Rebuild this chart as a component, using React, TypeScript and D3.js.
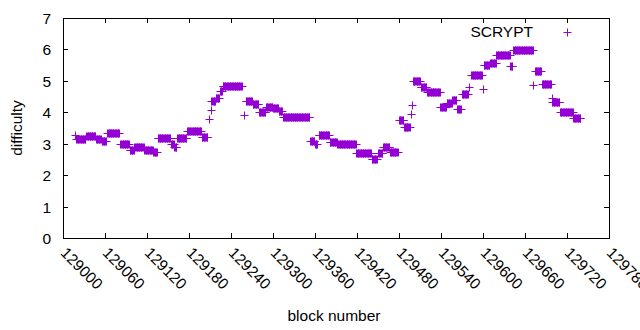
import { range, scaleLinear } from "d3";

// block difficulty, gnuplot-style "+" points

const X_TICKS = [
  129000, 129060, 129120, 129180, 129240, 129300, 129360,
  129420, 129480, 129540, 129600, 129660, 129720, 129780,
];
const Y_TICKS = [0, 1, 2, 3, 4, 5, 6, 7];
const SERIES_NAME = "SCRYPT";
const X_LABEL = "block number";
const Y_LABEL = "difficulty";

// difficulty holds for runs of blocks: [first block, last block, difficulty]
const RUNS: [number, number, number][] = [
  [129017, 129017, 3.29],
  [129018, 129018, 3.15],
  [129020, 129032, 3.15],
  [129033, 129046, 3.25],
  [129047, 129054, 3.15],
  [129055, 129061, 3.09],
  [129063, 129080, 3.34],
  [129082, 129094, 3.0],
  [129095, 129101, 2.81],
  [129102, 129115, 2.9],
  [129116, 129128, 2.8],
  [129129, 129134, 2.74],
  [129135, 129153, 3.18],
  [129154, 129158, 3.0],
  [129159, 129162, 2.9],
  [129163, 129176, 3.17],
  [129177, 129197, 3.41],
  [129198, 129206, 3.22],
  [129208, 129208, 3.79],
  [129211, 129211, 4.07],
  [129212, 129217, 4.37],
  [129218, 129223, 4.47],
  [129224, 129227, 4.68],
  [129228, 129255, 4.83],
  [129258, 129258, 3.91],
  [129261, 129270, 4.36],
  [129271, 129279, 4.26],
  [129280, 129289, 4.0],
  [129290, 129299, 4.17],
  [129300, 129307, 4.14],
  [129308, 129313, 4.04],
  [129314, 129352, 3.86],
  [129353, 129359, 3.08],
  [129360, 129363, 2.98],
  [129365, 129380, 3.28],
  [129381, 129391, 3.06],
  [129392, 129418, 2.98],
  [129419, 129440, 2.7],
  [129441, 129448, 2.51],
  [129450, 129456, 2.7],
  [129457, 129466, 2.9],
  [129467, 129478, 2.75],
  [129480, 129486, 3.75],
  [129487, 129495, 3.53],
  [129497, 129497, 3.95],
  [129498, 129498, 4.23],
  [129500, 129510, 4.98],
  [129511, 129519, 4.8],
  [129520, 129538, 4.66],
  [129539, 129547, 4.16],
  [129548, 129555, 4.3],
  [129556, 129562, 4.4],
  [129563, 129568, 4.1],
  [129570, 129578, 4.58],
  [129580, 129580, 4.8],
  [129583, 129598, 5.2],
  [129600, 129600, 4.74],
  [129601, 129609, 5.5],
  [129610, 129618, 5.58],
  [129619, 129638, 5.81],
  [129639, 129642, 5.46],
  [129643, 129671, 5.98],
  [129672, 129672, 4.88],
  [129674, 129683, 5.3],
  [129684, 129697, 4.89],
  [129698, 129698, 4.45],
  [129699, 129709, 4.32],
  [129710, 129728, 4.0],
  [129729, 129739, 3.83],
];

const WIDTH = 640;
const HEIGHT = 330;
const MARGIN = { top: 18, right: 31, bottom: 92, left: 63 };
const COLOR = "#9400d3";
const FONT = "'Liberation Sans', Arial, sans-serif";
const FONT_SIZE = 15.5;
const TICK = 5;
const MARK = 4; // half size of the "+"

const plus = (x: number, y: number) =>
  `M${x - MARK},${y}H${x + MARK}M${x},${y - MARK}V${y + MARK}`;

export default function App() {
  const boundsWidth = WIDTH - MARGIN.left - MARGIN.right;
  const boundsHeight = HEIGHT - MARGIN.top - MARGIN.bottom;

  const xScale = scaleLinear()
    .domain([X_TICKS[0], X_TICKS[X_TICKS.length - 1]])
    .range([0, boundsWidth]);
  const yScale = scaleLinear()
    .domain([Y_TICKS[0], Y_TICKS[Y_TICKS.length - 1]])
    .range([boundsHeight, 0]);

  const points = RUNS.flatMap(([first, last, value]) =>
    range(first, last + 1).map((block) => ({ block, value }))
  );

  const d = points
    .map((p) => plus(Math.round(xScale(p.block)) + 0.5, Math.round(yScale(p.value)) + 0.5))
    .join("");

  return (
    <svg
      width={WIDTH}
      height={HEIGHT}
      style={{ position: "absolute", left: 0, top: 0, background: "#fff" }}
      fontFamily={FONT}
      fontSize={FONT_SIZE}
    >
      <g transform={`translate(${MARGIN.left},${MARGIN.top})`}>
        {/* ticks, mirrored on all sides */}
        {Y_TICKS.map((t) => {
          const y = Math.round(yScale(t)) + 0.5;
          return (
            <g key={`y${t}`}>
              <line x1={0} x2={TICK} y1={y} y2={y} stroke="#000" />
              <line x1={boundsWidth - TICK} x2={boundsWidth} y1={y} y2={y} stroke="#000" />
              <text x={-12} y={y} dy="0.35em" textAnchor="end">
                {t}
              </text>
            </g>
          );
        })}
        {X_TICKS.map((t) => {
          const x = Math.round(xScale(t)) + 0.5;
          return (
            <g key={`x${t}`}>
              <line x1={x} x2={x} y1={boundsHeight} y2={boundsHeight - TICK} stroke="#000" />
              <line x1={x} x2={x} y1={0} y2={TICK} stroke="#000" />
              <text
                transform={`translate(${x},${boundsHeight + 12}) rotate(45)`}
                dy="0.35em"
                textAnchor="start"
              >
                {t}
              </text>
            </g>
          );
        })}

        <path d={d} stroke={COLOR} strokeWidth={1} fill="none" />

        {/* frame */}
        <rect
          x={0.5}
          y={0.5}
          width={boundsWidth}
          height={boundsHeight}
          fill="none"
          stroke="#000"
        />

        {/* legend */}
        <text x={470} y={14} dy="0.35em" textAnchor="end">
          {SERIES_NAME}
        </text>
        <path d={plus(504.5, 14.5)} stroke={COLOR} fill="none" />
      </g>

      <text x={334} y={321} textAnchor="middle">
        {X_LABEL}
      </text>
      <text transform="translate(22,128) rotate(-90)" textAnchor="middle">
        {Y_LABEL}
      </text>
    </svg>
  );
}
